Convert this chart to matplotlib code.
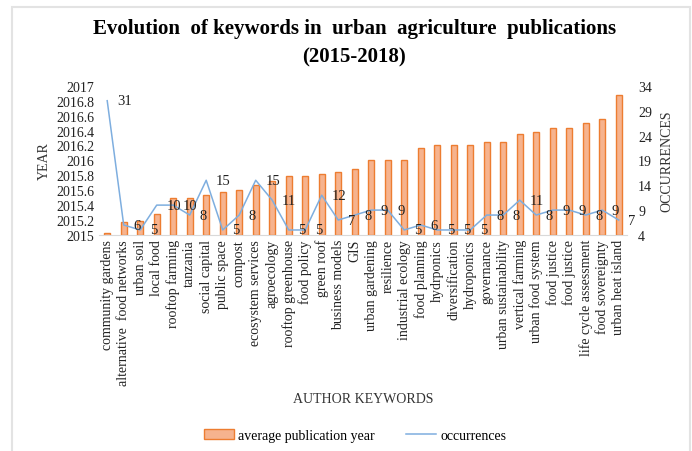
import matplotlib.pyplot as plt
import matplotlib.patches as mpatches
from matplotlib.lines import Line2D

plt.rcParams['font.family'] = ['Liberation Serif', 'DejaVu Serif']

# keywords, average year and occurrences
keywords = ['community gardens', 'alternative  food networks', 'urban soil', 'local food',
            'rooftop farming', 'tanzania', 'social capital', 'public space', 'compost',
            'ecosystem services', 'agroecology', 'rooftop greenhouse', 'food policy',
            'green roof', 'business models', 'GIS', 'urban gardening', 'resilience',
            'industrial ecology', 'food planning', 'hydrponics', 'diversification',
            'hydroponics', 'governance', 'urban sustainability', 'vertical farming',
            'urban food system', 'food justice', 'food justice', 'life cycle assessment',
            'food sovereignty', 'urban heat island']
avg_year = [2015.03, 2015.17, 2015.19, 2015.28, 2015.50, 2015.50, 2015.53, 2015.58,
            2015.60, 2015.67, 2015.73, 2015.79, 2015.79, 2015.82, 2015.85, 2015.88,
            2016.00, 2016.00, 2016.00, 2016.17, 2016.20, 2016.20, 2016.20, 2016.24,
            2016.24, 2016.35, 2016.38, 2016.44, 2016.44, 2016.50, 2016.56, 2016.87]
occurrences = [31, 6, 5, 10, 10, 8, 15, 5, 8, 15, 11, 5, 5, 12, 7, 8,
               9, 9, 5, 6, 5, 5, 5, 8, 8, 11, 8, 9, 9, 8, 9, 7]

bar_face = '#F6B38E'
bar_edge = '#ED7D31'
line_col = '#7EAEDF'

fig = plt.figure(figsize=(6.92, 4.52), dpi=100)
ax = fig.add_axes([0.143, 0.478, 0.763, 0.330])
x = list(range(len(keywords)))

ax.bar(x, [v - 2015 for v in avg_year], bottom=2015, width=0.38,
       color=bar_face, edgecolor=bar_edge, linewidth=1.0)
ax.set_ylim(2015, 2017)
ax.set_xlim(-0.5, len(keywords) - 0.5)
ax.set_yticks([2015 + 0.2 * i for i in range(11)])
ax.set_yticklabels(['2015', '2015.2', '2015.4', '2015.6', '2015.8', '2016',
                    '2016.2', '2016.4', '2016.6', '2016.8', '2017'])
ax.set_xticks(x)
ax.set_xticklabels(keywords, rotation=90, fontsize=10)
ax.tick_params(axis='both', length=0, labelsize=10, colors='#222222')
ax.tick_params(axis='x', pad=3)
for s in ['top', 'left', 'right']:
    ax.spines[s].set_visible(False)
ax.spines['bottom'].set_color('#D9D9D9')
ax.set_ylabel('YEAR', fontsize=10, color='#333333', labelpad=4)
ax.set_xlabel('AUTHOR KEYWORDS', fontsize=10, color='#333333', labelpad=5)

ax2 = ax.twinx()
ax2.plot(x, occurrences, color=line_col, linewidth=1.1)
ax2.set_ylim(4, 34)
ax2.set_yticks([4, 9, 14, 19, 24, 29, 34])
ax2.tick_params(axis='y', length=0, labelsize=10, colors='#222222', pad=8)
for s in ['top', 'left', 'right', 'bottom']:
    ax2.spines[s].set_visible(False)
ax2.set_ylabel('OCCURRENCES', fontsize=10, color='#333333', labelpad=6)
for xi, v in zip(x, occurrences):
    ax2.annotate(str(v), (xi, v), xytext=(7, 0), textcoords='offset points',
                 ha='left', va='center', fontsize=10.5, color='#222222')

fig.text(0.512, 0.935, 'Evolution  of keywords in  urban  agriculture  publications',
         ha='center', va='center', fontsize=15, fontweight='bold')
fig.text(0.512, 0.873, '(2015-2018)', ha='center', va='center',
         fontsize=15, fontweight='bold')

handles = [mpatches.Patch(facecolor=bar_face, edgecolor=bar_edge, linewidth=1.0),
           Line2D([], [], color=line_col, linewidth=1.1)]
fig.legend(handles, ['average publication year', 'occurrences'], loc='center',
           bbox_to_anchor=(0.513, 0.035), ncol=2, frameon=False, fontsize=10,
           handlelength=2.2, handletextpad=0.3, columnspacing=2.2)

# light frame around the chart area
fig.patches.append(mpatches.Rectangle((12 / 692, -0.05), 678 / 692, 1.05 - 8 / 452,
                                      transform=fig.transFigure, fill=False,
                                      edgecolor='#E3E3E3', linewidth=1.5))

fig.savefig('out.png', dpi=100)
